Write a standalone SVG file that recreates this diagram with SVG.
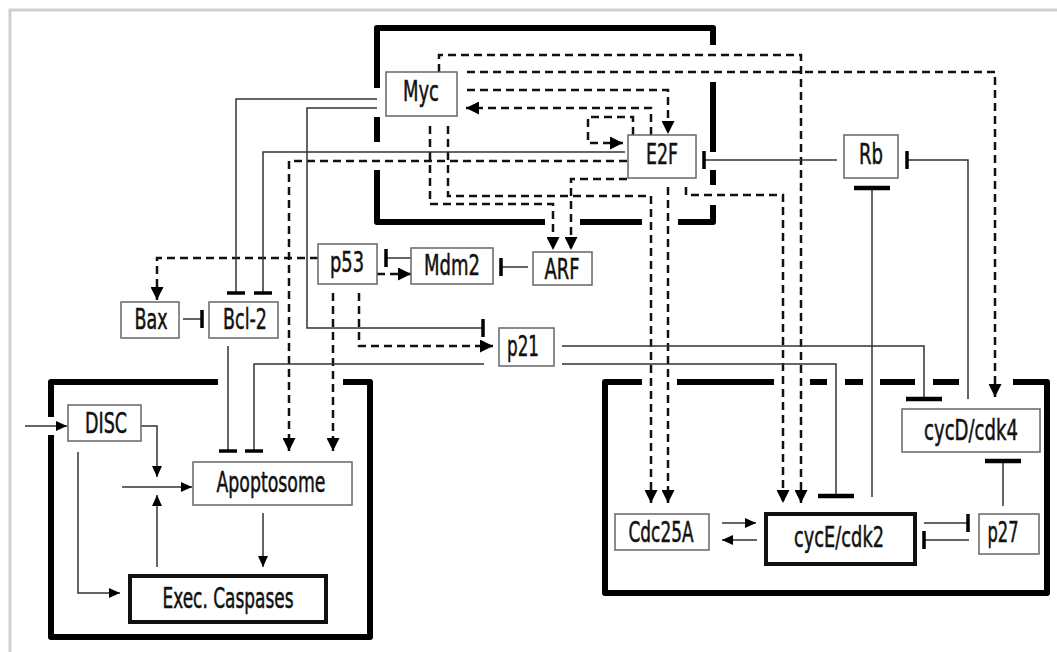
<svg xmlns="http://www.w3.org/2000/svg" width="1057" height="652" viewBox="0 0 1057 652">
<style>
.page{fill:#fff;stroke:#cfcfcf;stroke-width:3}
.region{fill:none;stroke:#000;stroke-width:6;stroke-linejoin:round}
.box{fill:#fff;stroke:#666;stroke-width:1.5}
.tbox{fill:#fff;stroke:#111;stroke-width:4}
.lbl{font-family:"DejaVu Sans Condensed","Liberation Sans Narrow","Liberation Sans",sans-serif;font-size:28px;fill:#111;stroke:#111;stroke-width:0.5;text-anchor:middle}
.s{fill:none;stroke:#333;stroke-width:1.5}
.d{fill:none;stroke:#111;stroke-width:2.5;stroke-dasharray:8 5}
</style>
<defs>
<marker id="ad" markerUnits="userSpaceOnUse" viewBox="0 0 13 13" refX="13" refY="6.5" markerWidth="13" markerHeight="13" orient="auto"><path d="M0,0 L13,6.5 L0,13 z" fill="#000"/></marker>
<marker id="as" markerUnits="userSpaceOnUse" viewBox="0 0 11 11" refX="11" refY="5.5" markerWidth="11" markerHeight="11" orient="auto"><path d="M0,0.5 L11,5.5 L0,10.5 z" fill="#000"/></marker>
<marker id="t" markerUnits="userSpaceOnUse" viewBox="-2 -9 4 18" refX="0" refY="0" markerWidth="4" markerHeight="18" orient="auto"><path d="M0,-9 V9" stroke="#000" stroke-width="3.5"/></marker>
<marker id="tb" markerUnits="userSpaceOnUse" viewBox="-3 -18 6 36" refX="0" refY="0" markerWidth="6" markerHeight="36" orient="auto"><path d="M0,-18 V18" stroke="#000" stroke-width="4.5"/></marker>
</defs>
<rect class="page" x="10" y="10" width="1060" height="660"/>
<g id="regions">
<path class="region" d="M377,88 V28 H713 V45 M713,82 V152 M713,170 V185 M713,205 V222 H678 M642,222 H580 M545,222 H377 V170 M377,142 V117"/>
<path class="region" d="M218,382 H51 V417 M51,435 V637 H370 V382 H343"/>
<path class="region" d="M642,382 H605 V593 H1047 V382 H1013 M677,382 H774 M810,382 H827 M845,382 H863 M880,382 H915 M933,382 H959"/>
</g>
<g id="connectors">
<path class="d" d="M439,72 V55 H801 V503" marker-end="url(#ad)"/>
<path class="d" d="M467,72 H995 V397" marker-end="url(#ad)"/>
<path class="d" d="M467,90 H668 V134" marker-end="url(#ad)"/>
<path class="d" d="M651,135 V108 H466" marker-end="url(#ad)"/>
<path class="d" d="M633,135 V117 H588 V143 H623" marker-end="url(#ad)"/>
<path class="d" d="M430,126 V204 H553 V250" marker-end="url(#ad)"/>
<path class="d" d="M448,126 V196 H651 V503" marker-end="url(#ad)"/>
<path class="d" d="M627,179 H571 V250" marker-end="url(#ad)"/>
<path class="d" d="M627,161 H289 V451" marker-end="url(#ad)"/>
<path class="d" d="M668,187 V503" marker-end="url(#ad)"/>
<path class="d" d="M686,187 V195 H783 V503" marker-end="url(#ad)"/>
<path class="d" d="M318,258 H157 V300" marker-end="url(#ad)"/>
<path class="d" d="M359,293 V346 H493" marker-end="url(#ad)"/>
<path class="d" d="M333,293 V451" marker-end="url(#ad)"/>
<path class="d" d="M377,274 H411" marker-end="url(#ad)"/>
<path class="s" d="M377,99 H236 V293" marker-end="url(#t)"/>
<path class="s" d="M377,108 H307 V328 H483" marker-end="url(#t)"/>
<path class="s" d="M625,152 H263 V293" marker-end="url(#t)"/>
<path class="s" d="M837,160 H704" marker-end="url(#t)"/>
<path class="s" d="M968,399 V160 H907" marker-end="url(#t)"/>
<path class="s" d="M872,497 V188" marker-end="url(#tb)"/>
<path class="s" d="M562,346 H924 V399" marker-end="url(#tb)"/>
<path class="s" d="M562,364 H836 V496" marker-end="url(#tb)"/>
<path class="s" d="M484,364 H254 V451" marker-end="url(#t)"/>
<path class="s" d="M228,346 V451" marker-end="url(#t)"/>
<path class="s" d="M183,319 H202" marker-end="url(#t)"/>
<path class="s" d="M411,258 H386" marker-end="url(#t)"/>
<path class="s" d="M528,267 H501" marker-end="url(#t)"/>
<path class="s" d="M25,426 H67" marker-end="url(#as)"/>
<path class="s" d="M141,426 H157 V477" marker-end="url(#as)"/>
<path class="s" d="M78,452 V593 H120" marker-end="url(#as)"/>
<path class="s" d="M122,487 H192" marker-end="url(#as)"/>
<path class="s" d="M157,567 V495" marker-end="url(#as)"/>
<path class="s" d="M263,513 V567" marker-end="url(#as)"/>
<path class="s" d="M722,523 H756" marker-end="url(#as)"/>
<path class="s" d="M757,540 H722" marker-end="url(#as)"/>
<path class="s" d="M924,523 H968" marker-end="url(#t)"/>
<path class="s" d="M969,540 H924" marker-end="url(#t)"/>
<path class="s" d="M1003,506 V461" marker-end="url(#tb)"/>
</g>
<g id="Myc"><rect class="box" x="386" y="72" width="71" height="44"/><text class="lbl" x="421" y="101" textLength="36" lengthAdjust="spacingAndGlyphs">Myc</text></g>
<g id="E2F"><rect class="box" x="628" y="135" width="68" height="43"/><text class="lbl" x="662" y="164" textLength="32" lengthAdjust="spacingAndGlyphs">E2F</text></g>
<g id="Rb"><rect class="box" x="844" y="135" width="54" height="43"/><text class="lbl" x="871" y="164" textLength="24" lengthAdjust="spacingAndGlyphs">Rb</text></g>
<g id="p53"><rect class="box" x="318" y="244" width="59" height="40"/><text class="lbl" x="347" y="272" textLength="34" lengthAdjust="spacingAndGlyphs">p53</text></g>
<g id="Mdm2"><rect class="box" x="411" y="248" width="82" height="36"/><text class="lbl" x="452" y="275" textLength="56" lengthAdjust="spacingAndGlyphs">Mdm2</text></g>
<g id="ARF"><rect class="box" x="533" y="252" width="59" height="33"/><text class="lbl" x="562" y="279" textLength="35" lengthAdjust="spacingAndGlyphs">ARF</text></g>
<g id="Bax"><rect class="box" x="121" y="302" width="58" height="36"/><text class="lbl" x="151" y="329" textLength="33" lengthAdjust="spacingAndGlyphs">Bax</text></g>
<g id="Bcl-2"><rect class="box" x="209" y="302" width="69" height="36"/><text class="lbl" x="245" y="329" textLength="44" lengthAdjust="spacingAndGlyphs">Bcl-2</text></g>
<g id="p21"><rect class="box" x="499" y="328" width="55" height="38"/><text class="lbl" x="523" y="356" textLength="32" lengthAdjust="spacingAndGlyphs">p21</text></g>
<g id="DISC"><rect class="box" x="68" y="405" width="73" height="36"/><text class="lbl" x="106" y="433" textLength="42" lengthAdjust="spacingAndGlyphs">DISC</text></g>
<g id="Apoptosome"><rect class="box" x="193" y="462" width="159" height="43"/><text class="lbl" x="271" y="492" textLength="109" lengthAdjust="spacingAndGlyphs">Apoptosome</text></g>
<g id="ExecCaspases"><rect class="tbox" x="130" y="576" width="196" height="46"/><text class="lbl" x="228" y="608" textLength="131" lengthAdjust="spacingAndGlyphs">Exec. Caspases</text></g>
<g id="Cdc25A"><rect class="box" x="615" y="514" width="94" height="36"/><text class="lbl" x="661" y="542" textLength="65" lengthAdjust="spacingAndGlyphs">Cdc25A</text></g>
<g id="cycE-cdk2"><rect class="tbox" x="766" y="514" width="149" height="50"/><text class="lbl" x="839" y="547" textLength="90" lengthAdjust="spacingAndGlyphs">cycE/cdk2</text></g>
<g id="p27"><rect class="box" x="979" y="514" width="60" height="40"/><text class="lbl" x="1003" y="542" textLength="31" lengthAdjust="spacingAndGlyphs">p27</text></g>
<g id="cycD-cdk4"><rect class="box" x="902" y="409" width="138" height="43"/><text class="lbl" x="971" y="440" textLength="94" lengthAdjust="spacingAndGlyphs">cycD/cdk4</text></g>
</svg>
